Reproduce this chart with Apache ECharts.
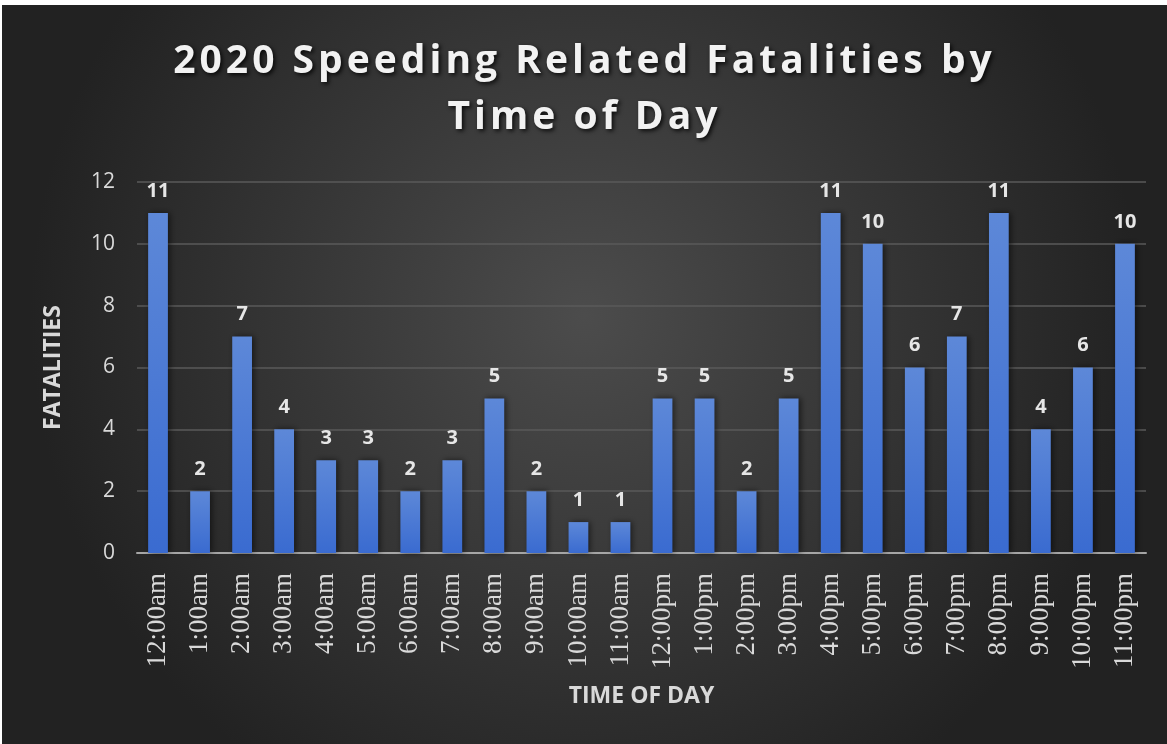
<!DOCTYPE html>
<html>
<head>
<meta charset="utf-8">
<script src="https://cdn.jsdelivr.net/npm/echarts@6/dist/echarts.min.js"></script>
<style>
  html, body { margin: 0; padding: 0; background: #ffffff; }
  #chart { position: absolute; left: 2px; top: 5px; width: 1165px; height: 739px; }
</style>
</head>
<body>
<div id="chart"></div>
<script>
// Hour-of-day buckets and speeding-related fatality counts for 2020
const hours = ['12:00am','1:00am','2:00am','3:00am','4:00am','5:00am','6:00am','7:00am',
  '8:00am','9:00am','10:00am','11:00am','12:00pm','1:00pm','2:00pm','3:00pm',
  '4:00pm','5:00pm','6:00pm','7:00pm','8:00pm','9:00pm','10:00pm','11:00pm'];
const fatalities = [11,2,7,4,3,3,2,3,5,2,1,1,5,5,2,5,11,10,6,7,11,4,6,10];
const titleLines = ['2020 Speeding Related Fatalities by', 'Time of Day'];

const chart = echarts.init(document.getElementById('chart'));

chart.setOption({
  animation: false,
  backgroundColor: {
    type: 'radial', x: 0.5, y: 0.42, r: 0.75,
    colorStops: [
      { offset: 0, color: '#4c4c4c' },
      { offset: 1, color: '#222222' }
    ]
  },
  title: {
    text: titleLines.join('\n'),
    left: 'center',
    top: 24,
    zlevel: 1, // own canvas layer so the heading can be tracked out
    textStyle: {
      fontFamily: 'Open Sans',
      fontWeight: 'bold',
      fontSize: 39,
      lineHeight: 56,
      color: '#f2f2f2',
      textShadowColor: 'rgba(0,0,0,0.8)',
      textShadowBlur: 4,
      textShadowOffsetX: 2,
      textShadowOffsetY: 2
    }
  },
  grid: { left: 135, right: 21, top: 177, bottom: 191, containLabel: false },
  xAxis: {
    type: 'category',
    data: hours,
    name: 'TIME OF DAY',
    nameLocation: 'middle',
    nameGap: 132,
    nameTextStyle: { fontFamily: 'Open Sans', fontWeight: 'bold', fontSize: 23, color: '#d9d9d9' },
    axisLine: { lineStyle: { color: '#a6a6a6', width: 2 } },
    axisTick: { show: false },
    axisLabel: {
      rotate: 90,
      interval: 0,
      margin: 20,
      fontFamily: 'Liberation Serif',
      fontSize: 27,
      color: '#d9d9d9'
    }
  },
  yAxis: {
    type: 'value',
    min: 0, max: 12, interval: 2,
    name: 'FATALITIES',
    nameLocation: 'middle',
    nameGap: 72,
    nameRotate: 90,
    nameTextStyle: { fontFamily: 'Open Sans', fontWeight: 'bold', fontSize: 23, color: '#d9d9d9' },
    axisLine: { show: false },
    axisTick: { show: false },
    axisLabel: { margin: 22, fontFamily: 'Open Sans', fontSize: 21, color: '#d9d9d9' },
    splitLine: { lineStyle: { color: '#5a5a5a', width: 1.5 } }
  },
  series: [{
    type: 'bar',
    data: fatalities,
    barWidth: '47%',
    itemStyle: {
      color: {
        type: 'linear', x: 0, y: 0, x2: 0, y2: 1,
        colorStops: [
          { offset: 0, color: '#5d88d8' },
          { offset: 1, color: '#3a6bd0' }
        ]
      },
      shadowColor: 'rgba(0,0,0,0.55)',
      shadowBlur: 6,
      shadowOffsetX: 2,
      shadowOffsetY: 0
    },
    label: {
      show: true,
      position: 'top',
      distance: 12,
      fontFamily: 'Open Sans',
      fontWeight: 'bold',
      fontSize: 20,
      color: '#e6e6e6'
    }
  }]
});

// Letter spacing for the heading layer, then repaint
try {
  const painter = chart.getZr().painter;
  const layer = painter.getLayer && painter.getLayer(1);
  if (layer && layer.ctx && 'letterSpacing' in layer.ctx) {
    layer.ctx.letterSpacing = '4px';
    painter.refresh(true);
  }
} catch (e) { /* plain spacing is fine */ }
</script>
</body>
</html>
